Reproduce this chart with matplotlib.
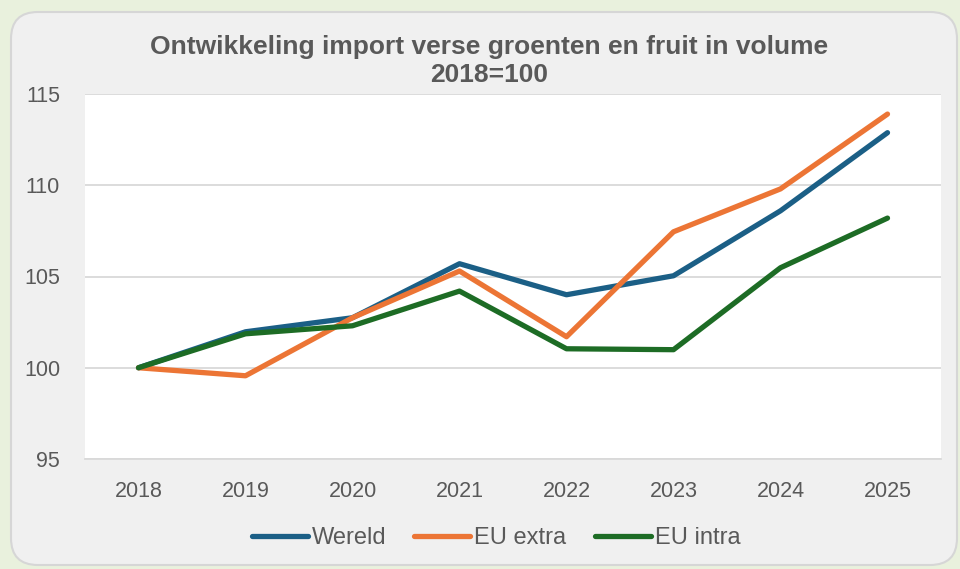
import matplotlib.pyplot as plt
from matplotlib.patches import FancyBboxPatch

plt.rcParams['font.family'] = ['Liberation Sans', 'DejaVu Sans']

jaren = ['2018', '2019', '2020', '2021', '2022', '2023', '2024', '2025']
wereld = [100, 101.97, 102.74, 105.7, 104.0, 105.04, 108.6, 112.88]
eu_extra = [100, 99.56, 102.74, 105.3, 101.7, 107.45, 109.8, 113.9]
eu_intra = [100, 101.86, 102.3, 104.2, 101.04, 100.99, 105.48, 108.2]
y_ticks = [95, 100, 105, 110, 115]

grijs = '#595959'

fig = plt.figure(figsize=(9.6, 5.69), dpi=100)
fig.patch.set_facecolor('#e9f1dd')

# afgerond paneel
paneel = FancyBboxPatch((11 / 960, 4 / 569), 946 / 960, 553 / 569,
                        boxstyle='round,pad=0,rounding_size=0.028',
                        transform=fig.transFigure, facecolor='#f0f0f0',
                        edgecolor='#d6d6d6', linewidth=1.5, zorder=-10,
                        mutation_aspect=960 / 569)
fig.patches.append(paneel)

ax = fig.add_axes([85 / 960, 1 - 459 / 569, 856 / 960, 365 / 569])
ax.set_zorder(1)
ax.set_facecolor('white')

x = range(len(jaren))
ax.plot(x, wereld, color='#1b5f86', lw=3.8, label='Wereld', solid_capstyle='round')
ax.plot(x, eu_extra, color='#ec7535', lw=3.8, label='EU extra', solid_capstyle='round')
ax.plot(x, eu_intra, color='#1d6c25', lw=3.8, label='EU intra', solid_capstyle='round')

ax.set_xlim(-0.5, len(jaren) - 0.5)
ax.set_ylim(95, 115)
ax.set_xticks(list(x))
ax.set_xticklabels(jaren)
ax.set_yticks(y_ticks)
ax.grid(axis='y', color='#d9d9d9', lw=1.3)
ax.set_axisbelow(True)
for s in ['top', 'right', 'left']:
    ax.spines[s].set_visible(False)
ax.spines['bottom'].set_color('#d9d9d9')
ax.spines['bottom'].set_linewidth(1.3)
ax.tick_params(length=0, labelsize=15.5, colors=grijs)
ax.tick_params(axis='x', pad=16)
ax.tick_params(axis='y', pad=18)

fig.text(0.509, 1 - 61 / 569, 'Ontwikkeling import verse groenten en fruit in volume\n2018=100',
         ha='center', va='center', fontsize=19, fontweight='bold', color=grijs,
         linespacing=1.25)

leg = ax.legend(loc='center', bbox_to_anchor=(496 / 960, 1 - 538 / 569),
                bbox_transform=fig.transFigure, ncol=3, frameon=False,
                fontsize=17, handlelength=2.37, handletextpad=0.17,
                columnspacing=1.19)
for t in leg.get_texts():
    t.set_color(grijs)

fig.savefig('out.png', dpi=100, facecolor=fig.get_facecolor())
